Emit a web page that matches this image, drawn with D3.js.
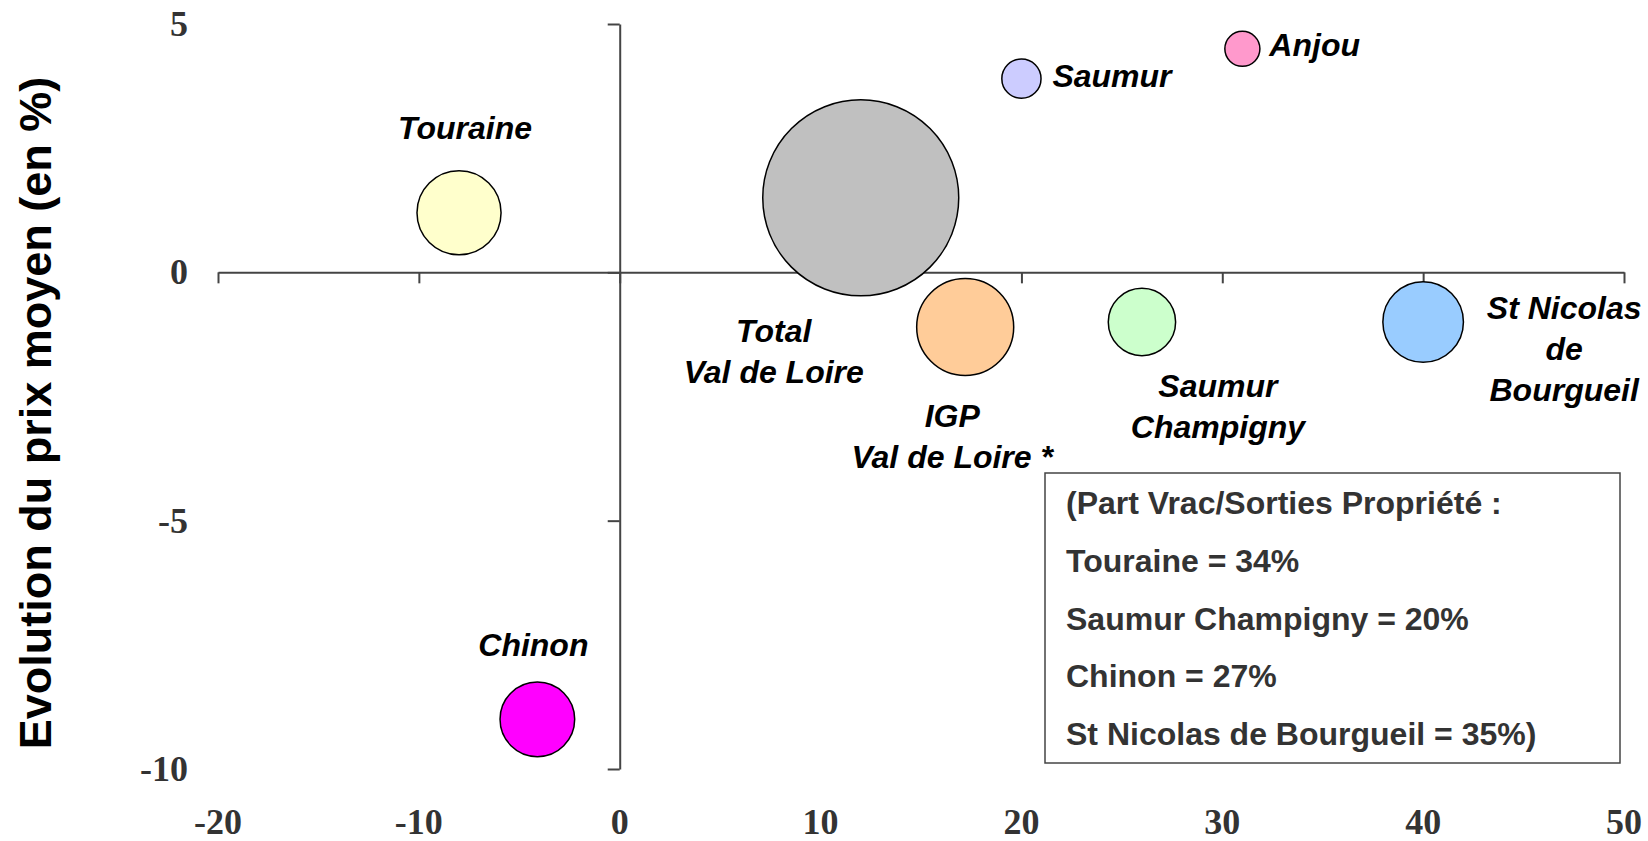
<!DOCTYPE html>
<html>
<head>
<meta charset="utf-8">
<script src="https://cdn.jsdelivr.net/npm/d3@7"></script>
<style>
  body { margin: 0; background: #fff; }
  svg { display: block; }
</style>
</head>
<body>
<svg id="chart"></svg>
<script>
// appellations et valeurs
const names = ["Touraine", "Total Val de Loire", "Saumur", "Anjou", "IGP Val de Loire *", "Saumur Champigny", "St Nicolas de Bourgueil", "Chinon"];
const xValues = [-8, 12, 20, 31, 17.2, 26, 40, -4.1];
const yValues = [1.2, 1.5, 3.9, 4.5, -1.1, -1.0, -1.0, -9.0];
const sizes = [18.4, 100, 4.0, 3.2, 24.5, 11.8, 16.9, 14.5];
const colors = ["#FFFFCC", "#C0C0C0", "#CCCCFF", "#FF99CC", "#FFCC99", "#CCFFCC", "#99CCFF", "#FF00FF"];
const labelLines = [["Touraine"], ["Total", "Val de Loire"], ["Saumur"], ["Anjou"], ["IGP", "Val de Loire *"], ["Saumur", "Champigny"], ["St Nicolas", "de", "Bourgueil"], ["Chinon"]];
const xTicks = [-20, -10, 0, 10, 20, 30, 40, 50];
const yTicks = [5, 0, -5, -10];
const noteLines = ["(Part Vrac/Sorties Propriété :", "Touraine = 34%", "Saumur Champigny = 20%", "Chinon = 27%", "St Nicolas de Bourgueil = 35%)"];

// placement des étiquettes par rapport au centre de la bulle
const labelPos = [
  { dx: 6, dy: -74, anchor: "middle" },
  { dx: -87, dy: 144, anchor: "middle" },
  { dx: 31, dy: 8, anchor: "start" },
  { dx: 27, dy: 7, anchor: "start" },
  { dx: -13, dy: 100, anchor: "middle" },
  { dx: 76, dy: 75, anchor: "middle" },
  { dx: 141, dy: -3, anchor: "middle" },
  { dx: -4, dy: -63, anchor: "middle" }
];

const width = 1648, height = 841;
const svg = d3.select("#chart").attr("width", width).attr("height", height);

const x = d3.scaleLinear().domain([-20, 50]).range([218, 1624]);
const y = d3.scaleLinear().domain([5, -10]).range([24, 769]);
const r = d3.scaleSqrt().domain([0, d3.max(sizes)]).range([0, 98]);

const axisColor = "#444";

// axe X (passe par y = 0)
const xAxis = svg.append("g")
  .attr("transform", `translate(0,${y(0)})`)
  .call(d3.axisBottom(x).tickValues(xTicks).tickSize(11).tickSizeOuter(0).tickFormat(""));
xAxis.select(".domain").attr("stroke", axisColor).attr("stroke-width", 2);
xAxis.selectAll(".tick line").attr("stroke", axisColor).attr("stroke-width", 2);

// axe Y (passe par x = 0)
const yAxis = svg.append("g")
  .attr("transform", `translate(${x(0)},0)`)
  .call(d3.axisLeft(y).tickValues(yTicks).tickSize(12).tickSizeOuter(0).tickFormat(""));
yAxis.select(".domain").attr("stroke", axisColor).attr("stroke-width", 2);
yAxis.selectAll(".tick line").attr("stroke", axisColor).attr("stroke-width", 2);

// libellés des graduations
svg.append("g").selectAll("text")
  .data(xTicks)
  .join("text")
  .attr("x", d => x(d))
  .attr("y", 834)
  .attr("text-anchor", "middle")
  .style("font-family", "'Liberation Serif', 'Times New Roman', serif")
  .style("font-weight", "bold")
  .style("font-size", "36px")
  .style("fill", "#333")
  .text(d => d);

svg.append("g").selectAll("text")
  .data(yTicks)
  .join("text")
  .attr("x", 188)
  .attr("y", d => y(d) + 12)
  .attr("text-anchor", "end")
  .style("font-family", "'Liberation Serif', 'Times New Roman', serif")
  .style("font-weight", "bold")
  .style("font-size", "36px")
  .style("fill", "#333")
  .text(d => d);

// titre de l'axe Y
svg.append("text")
  .attr("transform", `translate(51,413) rotate(-90)`)
  .attr("text-anchor", "middle")
  .style("font-family", "'Liberation Sans', Arial, sans-serif")
  .style("font-weight", "bold")
  .style("font-size", "45px")
  .style("fill", "#000")
  .text("Evolution du prix moyen (en %)");

// bulles
const data = names.map((n, i) => ({
  name: n, x: xValues[i], y: yValues[i], size: sizes[i], color: colors[i], lines: labelLines[i], pos: labelPos[i]
}));

svg.append("g").selectAll("circle")
  .data(data)
  .join("circle")
  .attr("cx", d => x(d.x))
  .attr("cy", d => y(d.y))
  .attr("r", d => r(d.size))
  .attr("fill", d => d.color)
  .attr("stroke", "#000")
  .attr("stroke-width", 1.5);

// étiquettes des bulles
const labels = svg.append("g").selectAll("text")
  .data(data)
  .join("text")
  .attr("text-anchor", d => d.pos.anchor)
  .style("font-family", "'Liberation Sans', Arial, sans-serif")
  .style("font-weight", "bold")
  .style("font-style", "italic")
  .style("font-size", "32px")
  .style("fill", "#000");

labels.selectAll("tspan")
  .data(d => d.lines.map((l, k) => ({ text: l, k, d })))
  .join("tspan")
  .attr("x", t => x(t.d.x) + t.d.pos.dx)
  .attr("y", t => y(t.d.y) + t.d.pos.dy + t.k * 41)
  .text(t => t.text);

// encadré
const note = svg.append("g");
note.append("rect")
  .attr("x", 1045)
  .attr("y", 473)
  .attr("width", 575)
  .attr("height", 290)
  .attr("fill", "#fff")
  .attr("stroke", "#444")
  .attr("stroke-width", 1.5);

note.selectAll("text")
  .data(noteLines)
  .join("text")
  .attr("x", 1066)
  .attr("y", (d, i) => 514 + i * 57.8)
  .style("font-family", "'Liberation Sans', Arial, sans-serif")
  .style("font-weight", "bold")
  .style("font-size", "32px")
  .style("fill", "#333")
  .text(d => d);
</script>
</body>
</html>
